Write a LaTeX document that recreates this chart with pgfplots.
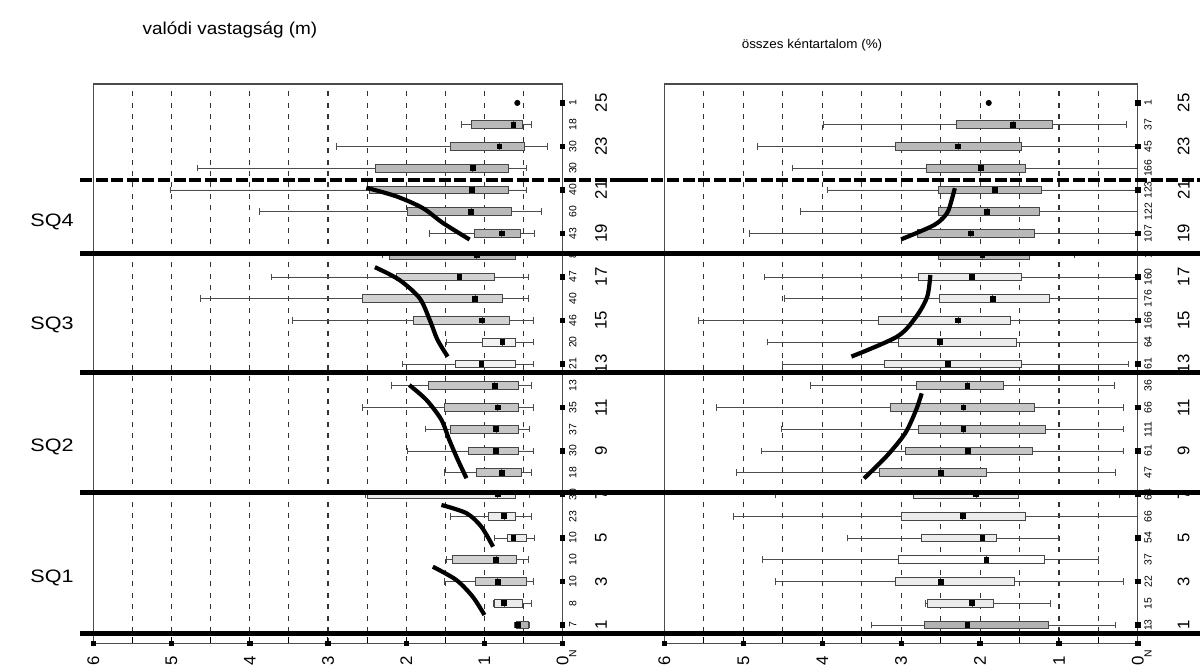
\documentclass[border=0pt]{standalone}
\usepackage{fontspec}
\setmainfont{Liberation Sans}
\usepackage{pgfplots}
\pgfplotsset{compat=1.18}
\usepgfplotslibrary{statistics}

\newcommand{\bx}[7]{\addplot[draw=gray!55!black, line width=0.45pt, fill=#7,
  boxplot prepared={draw direction=x, draw position=#1,
   lower whisker=#2, lower quartile=#3, median=#4, upper quartile=#5, upper whisker=#6,
   box extend=0.36, whisker extend=0.3}] coordinates {};}

\pgfplotsset{
  panel/.style={
    scale only axis, height=279.65pt,
    xmin=0, xmax=6, x dir=reverse, ymin=0.159, ymax=25.87,
    clip=false,
    xtick={0,1,...,6}, minor xtick={0.5,1.5,...,5.5},
    xtick pos=bottom,
    xmajorgrids, xminorgrids,
    major grid style={dash pattern=on 2.5pt off 3.2pt, black!80, line width=0.55pt},
    minor grid style={dash pattern=on 2.5pt off 3.2pt, black!80, line width=0.55pt},
    ytick=\empty,
    axis line style={gray!60!black, line width=0.6pt},
    tick align=inside, major tick length=3pt, minor tick length=3pt,
    tick style={black, line width=0.5pt},
    xticklabel style={rotate=90, anchor=east, inner sep=0pt, font=\fontsize{8.4}{10}\selectfont},
    xticklabel shift=6pt,
    /pgf/number format/assume math mode=true,
    boxplot/every whisker/.style={draw=gray!60!black, line width=0.4pt},
    boxplot/every median/.style={draw=gray!60!black},
  },
  nlab/.style={only marks, mark=*, mark size=0pt, nodes near coords, point meta=explicit symbolic,
    every node near coord/.style={rotate=90, anchor=center, inner sep=0pt, font=\fontsize{5.2}{6}\selectfont}},
  rlab/.style={only marks, mark=*, mark size=0pt, nodes near coords, point meta=explicit symbolic,
    every node near coord/.style={rotate=90, anchor=center, inner sep=0pt, font=\fontsize{8.4}{10}\selectfont}},
  med/.style={only marks, mark=square*, mark size=1.2pt, black},
  thick line/.style={black, line width=2.4pt},
  curve/.style={black, line width=2.1pt, smooth},
}

\begin{document}
\begin{tikzpicture}
\useasboundingbox (0,0) rectangle (600pt,333pt);

% ---------------- left panel: valodi vastagsag ----------------
\begin{axis}[panel, at={(46.65pt,11.35pt)}, anchor=south west, width=234.7pt]
\bx{1}{0.42}{0.44}{0.57}{0.59}{0.62}{gray!60}
\bx{2}{0.40}{0.51}{0.75}{0.87}{0.89}{gray!15}
\bx{3}{0.38}{0.46}{0.83}{1.12}{1.51}{gray!40}
\bx{4}{0.44}{0.59}{0.85}{1.41}{1.49}{gray!35}
\bx{5}{0.36}{0.46}{0.63}{0.71}{0.87}{gray!15}
\bx{6}{0.40}{0.61}{0.75}{0.95}{1.44}{gray!15}
\bx{7}{0.42}{0.60}{0.83}{2.49}{2.52}{gray!15}
\bx{8}{0.40}{0.53}{0.78}{1.10}{1.51}{gray!45}
\bx{9}{0.38}{0.56}{0.85}{1.21}{1.98}{gray!45}
\bx{10}{0.42}{0.57}{0.85}{1.44}{1.75}{gray!45}
\bx{11}{0.38}{0.57}{0.83}{1.51}{2.56}{gray!45}
\bx{12}{0.40}{0.57}{0.87}{1.71}{2.19}{gray!45}
\bx{13}{0.38}{0.61}{1.04}{1.37}{2.05}{gray!10}
\bx{14}{0.38}{0.61}{0.77}{1.03}{1.49}{gray!10}
\bx{15}{0.38}{0.68}{1.03}{1.91}{3.46}{gray!35}
\bx{16}{0.44}{0.77}{1.12}{2.56}{4.63}{gray!35}
\bx{17}{0.44}{0.87}{1.32}{2.12}{3.72}{gray!35}
\bx{18}{0.45}{0.60}{1.10}{2.21}{2.30}{gray!55}
\bx{19}{0.36}{0.54}{0.78}{1.13}{1.71}{gray!55}
\bx{20}{0.27}{0.66}{1.17}{1.98}{3.88}{gray!55}
\bx{21}{0.47}{0.69}{1.16}{2.47}{5.02}{gray!55}
\bx{22}{0.46}{0.69}{1.15}{2.39}{4.67}{gray!55}
\bx{23}{0.19}{0.49}{0.81}{1.44}{2.89}{gray!55}
\bx{24}{0.40}{0.51}{0.63}{1.17}{1.29}{gray!55}
\addplot[med] coordinates {(0.57,1)(0.75,2)(0.83,3)(0.85,4)(0.63,5)(0.75,6)(0.83,7)(0.78,8)(0.85,9)(0.85,10)(0.83,11)(0.87,12)(1.04,13)(0.77,14)(1.03,15)(1.12,16)(1.32,17)(1.10,18)(0.78,19)(1.17,20)(1.16,21)(1.15,22)(0.81,23)(0.63,24)};
\addplot[only marks, mark=*, mark size=1.3pt, black] coordinates {(0.58,25)};
% axis dots
\addplot[only marks, mark=square*, mark size=1.1pt, black] coordinates {(0,1)(0,3)(0,5)(0,7)(0,9)(0,11)(0,13)(0,15)(0,17)(0,19)(0,21)(0,23)(0,25)};
\addplot[only marks, mark=square*, mark size=1.1pt, black] coordinates {(0,0.159)(1,0.159)(2,0.159)(3,0.159)(4,0.159)(5,0.159)(6,0.159)};
% N counts
\addplot[nlab] coordinates {(-0.13,1)[7] (-0.13,2)[8] (-0.13,3)[10] (-0.13,4)[10] (-0.13,5)[10] (-0.13,6)[23] (-0.13,7)[30] (-0.13,8)[18] (-0.13,9)[30] (-0.13,10)[37] (-0.13,11)[35] (-0.13,12)[13] (-0.13,13)[21] (-0.13,14)[20] (-0.13,15)[46] (-0.13,16)[40] (-0.13,17)[47] (-0.13,18)[8] (-0.13,19)[43] (-0.13,20)[60] (-0.13,21)[40] (-0.13,22)[30] (-0.13,23)[30] (-0.13,24)[18] (-0.13,25)[1] (-0.13,-0.3)[N]};
\addplot[rlab] coordinates {(-0.49,1)[1] (-0.49,3)[3] (-0.49,5)[5] (-0.49,7)[7] (-0.49,9)[9] (-0.49,11)[11] (-0.49,13)[13] (-0.49,15)[15] (-0.49,17)[17] (-0.49,19)[19] (-0.49,21)[21] (-0.49,23)[23] (-0.49,25)[25]};
% trend curves
\addplot[curve] coordinates {(2.51,21.10)(2.13,20.71)(1.79,20.17)(1.53,19.48)(1.19,18.72)};
\addplot[curve] coordinates {(2.40,17.45)(2.09,16.87)(1.83,16.03)(1.70,15.03)(1.60,14.11)(1.47,13.34)};
\addplot[curve] coordinates {(1.96,12.03)(1.74,11.34)(1.55,10.43)(1.45,9.51)(1.34,8.59)(1.23,7.75)};
\addplot[curve] coordinates {(1.55,6.52)(1.23,6.14)(1.04,5.52)(0.89,4.60)};
\addplot[curve] coordinates {(1.66,3.68)(1.36,3.07)(1.15,2.30)(1.00,1.46)};
% separator lines
\addplot[thick line] coordinates {(6.17,0.62)(-1.0,0.62)};
\addplot[thick line] coordinates {(6.17,7.08)(-1.0,7.08)};
\addplot[thick line] coordinates {(6.17,12.6)(-1.0,12.6)};
\addplot[thick line] coordinates {(6.17,18.06)(-1.0,18.06)};
\addplot[thick line, dash pattern=on 6pt off 1.8pt] coordinates {(6.17,21.46)(-1.0,21.46)};
\end{axis}

% ---------------- right panel: osszes kentartalom ----------------
\begin{axis}[panel, at={(332.2pt,11.35pt)}, anchor=south west, width=236.75pt]
\bx{1}{0.29}{1.13}{2.16}{2.70}{3.38}{gray!60}
\bx{2}{1.11}{1.83}{2.10}{2.67}{2.69}{gray!15}
\bx{3}{0.19}{1.57}{2.50}{3.07}{4.59}{gray!15}
\bx{4}{0.50}{1.18}{1.92}{3.03}{4.76}{white}
\bx{5}{1.01}{1.79}{1.97}{2.74}{3.68}{gray!15}
\bx{6}{0.01}{1.43}{2.22}{2.99}{5.12}{gray!15}
\bx{7}{0.23}{1.51}{2.05}{2.85}{4.59}{gray!15}
\bx{8}{0.28}{1.92}{2.50}{3.27}{5.09}{gray!45}
\bx{9}{0.19}{1.34}{2.15}{2.95}{4.77}{gray!45}
\bx{10}{0.19}{1.17}{2.21}{2.78}{4.52}{gray!45}
\bx{11}{0.18}{1.31}{2.21}{3.13}{5.34}{gray!45}
\bx{12}{0.30}{1.71}{2.16}{2.81}{4.15}{gray!45}
\bx{13}{0.12}{1.48}{2.41}{3.21}{4.50}{gray!15}
\bx{14}{0.01}{1.54}{2.51}{3.03}{4.70}{gray!15}
\bx{15}{0.01}{1.62}{2.28}{3.29}{5.57}{gray!15}
\bx{16}{0.01}{1.12}{1.84}{2.51}{4.48}{gray!15}
\bx{17}{0.01}{1.48}{2.10}{2.78}{4.73}{gray!15}
\bx{18}{0.80}{1.38}{1.97}{2.53}{3.00}{gray!55}
\bx{19}{0.01}{1.31}{2.12}{2.79}{4.92}{gray!55}
\bx{20}{0.01}{1.25}{1.91}{2.53}{4.28}{gray!55}
\bx{21}{0.01}{1.22}{1.81}{2.53}{3.94}{gray!55}
\bx{22}{0.01}{1.43}{1.99}{2.68}{4.38}{gray!55}
\bx{23}{0.01}{1.47}{2.28}{3.07}{4.82}{gray!55}
\bx{24}{0.15}{1.08}{1.58}{2.30}{3.99}{gray!55}
\addplot[med] coordinates {(2.16,1)(2.10,2)(2.50,3)(1.92,4)(1.97,5)(2.22,6)(2.05,7)(2.50,8)(2.15,9)(2.21,10)(2.21,11)(2.16,12)(2.41,13)(2.51,14)(2.28,15)(1.84,16)(2.10,17)(1.97,18)(2.12,19)(1.91,20)(1.81,21)(1.99,22)(2.28,23)(1.58,24)};
\addplot[only marks, mark=*, mark size=1.3pt, black] coordinates {(1.89,25)};
\addplot[only marks, mark=square*, mark size=1.1pt, black] coordinates {(0,1)(0,3)(0,5)(0,7)(0,9)(0,11)(0,13)(0,15)(0,17)(0,19)(0,21)(0,23)(0,25)};
\addplot[only marks, mark=square*, mark size=1.1pt, black] coordinates {(0,0.159)(1,0.159)(2,0.159)(3,0.159)(4,0.159)(5,0.159)(6,0.159)};
\addplot[nlab] coordinates {(-0.13,1)[13] (-0.13,2)[15] (-0.13,3)[22] (-0.13,4)[37] (-0.13,5)[54] (-0.13,6)[66] (-0.13,7)[64] (-0.13,8)[47] (-0.13,9)[61] (-0.13,10)[111] (-0.13,11)[66] (-0.13,12)[36] (-0.13,13)[61] (-0.13,14)[64] (-0.13,15)[166] (-0.13,16)[176] (-0.13,17)[160] (-0.13,18)[1] (-0.13,19)[107] (-0.13,20)[122] (-0.13,21)[123] (-0.13,22)[166] (-0.13,23)[45] (-0.13,24)[37] (-0.13,25)[1] (-0.13,-0.3)[N]};
\addplot[rlab] coordinates {(-0.58,1)[1] (-0.58,3)[3] (-0.58,5)[5] (-0.58,7)[7] (-0.58,9)[9] (-0.58,11)[11] (-0.58,13)[13] (-0.58,15)[15] (-0.58,17)[17] (-0.58,19)[19] (-0.58,21)[21] (-0.58,23)[23] (-0.58,25)[25]};
\addplot[curve] coordinates {(2.32,21.08)(2.36,20.54)(2.42,19.93)(2.58,19.39)(3.00,18.73)};
\addplot[curve] coordinates {(2.63,17.09)(2.67,16.09)(2.81,15.17)(3.05,14.26)(3.63,13.34)};
\addplot[curve] coordinates {(2.74,11.65)(2.81,10.89)(2.95,9.81)(3.19,8.74)(3.47,7.74)};
\addplot[thick line] coordinates {(6.56,0.62)(-0.79,0.62)};
\addplot[thick line] coordinates {(6.56,7.08)(-0.79,7.08)};
\addplot[thick line] coordinates {(6.56,12.6)(-0.79,12.6)};
\addplot[thick line] coordinates {(6.56,18.06)(-0.79,18.06)};
\addplot[thick line, dash pattern=on 6pt off 1.8pt] coordinates {(6.56,21.46)(-0.79,21.46)};
\end{axis}

% titles and group labels
\node[font=\fontsize{8.6}{10}\selectfont, xscale=1.1] at (115pt,318pt) {valódi vastagság (m)};
\node[font=\fontsize{6.4}{8}\selectfont, xscale=1.05] at (406pt,310.5pt) {összes kéntartalom (\%)};
\node[font=\fontsize{9}{10}\selectfont, xscale=1.2] at (26pt,222pt) {SQ4};
\node[font=\fontsize{9}{10}\selectfont, xscale=1.2] at (26pt,170.5pt) {SQ3};
\node[font=\fontsize{9}{10}\selectfont, xscale=1.2] at (26pt,109.5pt) {SQ2};
\node[font=\fontsize{9}{10}\selectfont, xscale=1.2] at (26pt,44pt) {SQ1};
\end{tikzpicture}
\end{document}
